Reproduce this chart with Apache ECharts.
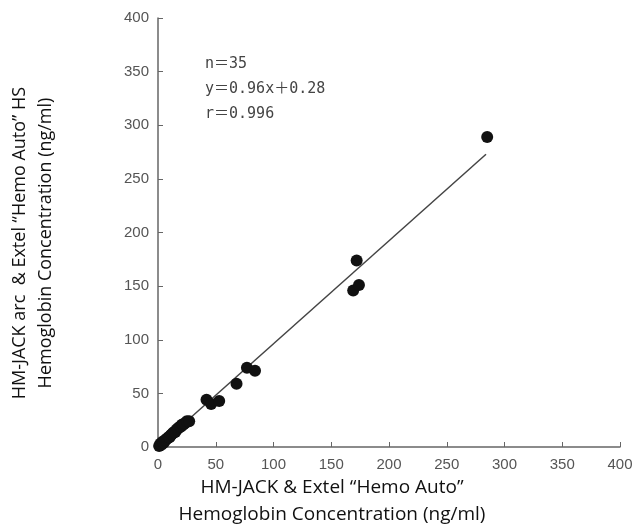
<!DOCTYPE html>
<html>
<head>
<meta charset="utf-8">
<script src="https://cdn.jsdelivr.net/npm/echarts@6/dist/echarts.min.js"></script>
<style>html,body{margin:0;padding:0;background:#fff;}#c{width:636px;height:527px;}</style>
</head>
<body>
<div id="c"></div>
<script>
// Data
var xValues = [1,2,3,4,5,6,7,8,9,10,11,12,13,14,15,16,17,18,19,20,21,22,23,25,27, 42,46,53, 68,77,84, 169,174,172, 285];
var yValues = [1,3,2,5,4,6,7,8,9,9,11,12,13,14,14,16,17,18,19,19,21,21,22,24,24, 44,40,43, 59,74,71, 146,151,174, 289];
var fitSlope = 0.96, fitIntercept = 0.28, fitXRange = [0, 284];
var axisTicks = [0,50,100,150,200,250,300,350,400];
var statsLines = ['n＝35', 'y＝0.96x＋0.28', 'r＝0.996'];
var xTitle = 'HM-JACK & Extel “Hemo Auto”\nHemoglobin Concentration (ng/ml)';
var yTitle = 'HM-JACK arc  & Extel “Hemo Auto” HS\nHemoglobin Concentration (ng/ml)';

var points = xValues.map(function(x, i){ return [x, yValues[i]]; });
var fitLine = fitXRange.map(function(x){ return [x, fitSlope * x + fitIntercept]; });

var chart = echarts.init(document.getElementById('c'));
function axis(margin) {
  return {
    type: 'value', min: axisTicks[0], max: axisTicks[axisTicks.length-1], interval: 50,
    axisLine: {show: true, lineStyle: {color: '#666', width: 1.5}},
    axisTick: {show: true, inside: true, length: 5, lineStyle: {color: '#666'}},
    axisLabel: {color: '#555', fontFamily: '"Liberation Sans"', fontSize: 15, margin: margin},
    splitLine: {show: false}
  };
}
chart.setOption({
  animation: false,
  grid: {left: 158, right: 16, top: 18, bottom: 80, containLabel: false},
  xAxis: axis(10),
  yAxis: axis(9),
  series: [
    {type: 'line', data: fitLine, symbol: 'none', lineStyle: {color: '#444', width: 1.5}, z: 1},
    {type: 'scatter', data: points, symbolSize: 12, itemStyle: {color: '#111', opacity: 1}, z: 2}
  ],
  graphic: [
    {type: 'text', left: 205, top: 52, style: {text: statsLines.join('\n'), fill: '#444', font: '15px "DejaVu Sans Mono", "Noto Sans CJK JP"', lineHeight: 25}},
    {type: 'text', x: 332, y: 501, style: {text: xTitle, fill: '#111', font: '19px "Open Sans"', textAlign: 'center', textVerticalAlign: 'middle', lineHeight: 27}},
    {type: 'text', x: 33, y: 243, rotation: Math.PI/2, style: {text: yTitle, fill: '#111', font: '18px "Open Sans"', textAlign: 'center', textVerticalAlign: 'middle', lineHeight: 26}}
  ]
});
</script>
</body>
</html>
